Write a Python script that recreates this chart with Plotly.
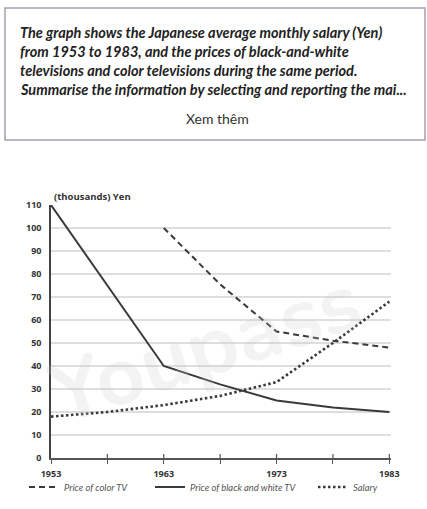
import plotly.graph_objects as go

# ---- data ----
years_bw = [1953, 1963, 1968, 1973, 1978, 1983]
price_bw = [110, 40, 32, 25, 22, 20]

years_color = [1963, 1968, 1973, 1978, 1983]
price_color = [100, 75.5, 55, 51, 48]

years_salary = [1953, 1958, 1963, 1968, 1973, 1978, 1983]
salary = [18, 20, 23, 27, 33, 50, 68]

x_ticks = [1953, 1958, 1963, 1968, 1973, 1978, 1983]
x_labels = ["1953", "", "1963", "", "1973", "", "1983"]
y_ticks = list(range(0, 111, 10))

W, H = 427, 509
L, R, T, B = 51, 36, 205, 51
PW, PH = W - L - R, H - T - B


def px(x):
    return (x - L) / PW


def py(y):
    return (H - B - y) / PH


LINE = "#3a3a3a"
fig = go.Figure()

fig.add_trace(go.Scatter(x=years_color, y=price_color, mode="lines", name="Price of color TV",
                         line=dict(color=LINE, width=2, dash="6px,4px"), legend="legend"))
fig.add_trace(go.Scatter(x=years_bw, y=price_bw, mode="lines", name="Price of black and white TV",
                         line=dict(color=LINE, width=2), legend="legend2"))
fig.add_trace(go.Scatter(x=years_salary, y=salary, mode="lines", name="Salary",
                         line=dict(color=LINE, width=2.6, dash="2.5px,2.5px"), legend="legend3"))

legfont = dict(family="Lato, Noto Sans", size=9.4, color="#555", style="italic")
leg_common = dict(xref="container", yref="container", y=1 - 487 / H, yanchor="middle",
                  xanchor="left", font=legfont, bgcolor="rgba(0,0,0,0)", borderwidth=0)

tickfont = dict(family="Open Sans, Noto Sans", size=9, color="#333", weight="bold")

fig.update_layout(
    width=W, height=H,
    margin=dict(l=L, r=R, t=T, b=B, autoexpand=False),
    paper_bgcolor="white", plot_bgcolor="white",
    showlegend=True,
    legend=dict(x=24 / W, **leg_common),
    legend2=dict(x=150 / W, **leg_common),
    legend3=dict(x=313 / W, **leg_common),
    xaxis=dict(range=[1953, 1983.15], tickvals=x_ticks, ticktext=x_labels,
               showgrid=False, zeroline=False, showline=True, linecolor="#555", linewidth=1.5,
               ticks="outside", ticklen=4, tickwidth=1.2, tickcolor="#555",
               tickfont=tickfont, ticklabelstandoff=2),
    yaxis=dict(range=[0, 110], tickvals=y_ticks, showgrid=True, gridcolor="#dedede", gridwidth=1.5,
               zeroline=False, showline=True, linecolor="#444", linewidth=1.5, ticks="",
               tickfont=tickfont, ticklabelstandoff=6),
)

# upper halves of the crossing tick marks
for xv in x_ticks[1:]:
    fig.add_shape(type="line", xref="x", yref="y", x0=xv, x1=xv, y0=0, y1=4,
                  ysizemode="pixel", yanchor=0, line=dict(color="#555", width=1.2))

# y axis title
fig.add_annotation(xref="paper", yref="paper", x=px(52), y=py(196), xanchor="left", yanchor="middle",
                   text="<b>(thousands) Yen</b>", showarrow=False,
                   font=dict(family="Open Sans, Noto Sans", size=9.5, color="#333"))

# watermark
fig.add_annotation(xref="paper", yref="paper", x=px(205), y=py(348), xanchor="center", yanchor="middle",
                   text="<b>Youpass</b>", showarrow=False, textangle=-18,
                   font=dict(family="Nunito, Lato, Noto Sans", size=84, color="rgba(200,200,200,0.22)"))

# question box
fig.add_shape(type="rect", xref="paper", yref="paper", x0=px(5), x1=px(425), y0=py(8), y1=py(140),
              line=dict(color="#9ea3b0", width=1.5), fillcolor="rgba(0,0,0,0)")

lines = [
    "The graph shows the Japanese average monthly salary (Yen)",
    "from 1953 to 1983, and the prices of black-and-white",
    "televisions and color televisions during the same period.",
    "Summarise the information by selecting and reporting the mai...",
]
line_y = [32, 51, 70.5, 89.5]
for t, yy in zip(lines, line_y):
    fig.add_annotation(xref="paper", yref="paper", x=px(18), y=py(yy), xanchor="left", yanchor="middle",
                       text=f"<b><i>{t}</i></b>", showarrow=False,
                       font=dict(family="Lato, Noto Sans", size=14.5, color="#222"))

fig.add_annotation(xref="paper", yref="paper", x=px(217), y=py(118), xanchor="center", yanchor="middle",
                   text="Xem thêm", showarrow=False,
                   font=dict(family="Lato, Noto Sans", size=14, color="#333"))

fig.write_html("out.html")
